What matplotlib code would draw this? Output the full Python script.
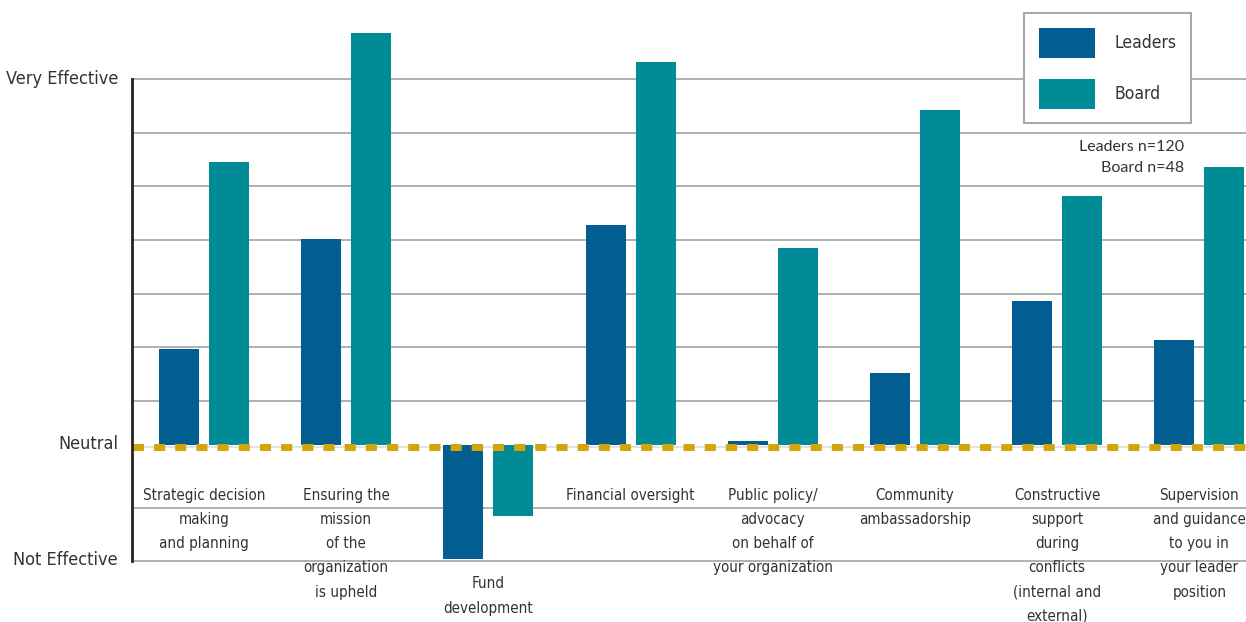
import numpy as np
import matplotlib
matplotlib.use("Agg")
import matplotlib.pyplot as plt
from matplotlib.patches import Patch

# Ratings relative to "Neutral", in grid steps (Not Effective = 0, Very Effective = 9)
categories = [
    "Strategic decision\nmaking\nand planning",
    "Ensuring the\nmission\nof the\norganization\nis upheld",
    "Fund\ndevelopment",
    "Financial oversight",
    "Public policy/\nadvocacy\non behalf of\nyour organization",
    "Community\nambassadorship",
    "Constructive\nsupport\nduring\nconflicts\n(internal and\nexternal)",
    "Supervision\nand guidance\nto you in\nyour leader\nposition",
]
leaders = [1.78, 3.84, -2.13, 4.11, 0.07, 1.33, 2.68, 1.96]
board = [5.28, 7.68, -1.33, 7.14, 3.67, 6.25, 4.64, 5.18]

neutral = 2.18
scale_labels = ["Not Effective", "Neutral", "Very Effective"]
sample_note = "Leaders n=120\nBoard n=48"

c_leaders = "#025d91"
c_board = "#008b96"
c_gold = "#d4a40b"
c_text = "#333333"
cond = dict(family="DejaVu Sans", fontstretch="condensed")

fig = plt.figure(figsize=(12.46, 6.22), dpi=100)
ax = fig.add_axes([132 / 1246, 0, 1 - 132 / 1246, 1])

x = np.arange(len(categories))
w = 0.281
off = 0.176
ax.bar(x - off, leaders, w, bottom=neutral, color=c_leaders, zorder=3, label="Leaders")
ax.bar(x + off, board, w, bottom=neutral, color=c_board, zorder=3, label="Board")

# horizontal grid, skipping the step hidden by the neutral line
for g in [0, 1, 3, 4, 5, 6, 7, 8, 9]:
    ax.axhline(g, color="#9a9a9a", lw=1.1, zorder=1)
ax.axhline(neutral - 0.04, color="#dddddd", lw=1.2, zorder=2)
ax.axhline(neutral - 0.04, color=c_gold, lw=5, linestyle=(3, (1.6, 1.45)), zorder=4)

ax.set_xlim(-0.506, 7.328)
ax.set_ylim(-1.131, 10.482)

for s in ["top", "right", "bottom"]:
    ax.spines[s].set_visible(False)
ax.spines["left"].set_bounds(0, 9)
ax.spines["left"].set_linewidth(2)
ax.spines["left"].set_color("#222222")
ax.spines["left"].set_zorder(5)

ax.set_xticks([])
ax.set_yticks([0.06, neutral + 0.05, 9.05])
ax.set_yticklabels(scale_labels, fontsize=13, color=c_text, **cond)
ax.tick_params(axis="y", length=0, pad=10)

for i, name in enumerate(categories):
    low = min(leaders[i], board[i])
    ty = neutral - 0.81 if low >= 0 else neutral + low - 0.33
    ax.text(i, ty, name, ha="center", va="top", fontsize=10.9,
            color=c_text, linespacing=1.76, zorder=6, **cond)

ax.text(6.89, 7.54, sample_note, ha="right", va="center", family="Lato",
        fontsize=11.5, color=c_text, linespacing=1.6)

handles = [Patch(facecolor=c_leaders), Patch(facecolor=c_board)]
leg = ax.legend(handles, ["Leaders", "Board"], loc="upper right",
                bbox_to_anchor=(1191 / 1246, 1 - 13 / 622), bbox_transform=fig.transFigure,
                borderaxespad=0, fancybox=False, framealpha=1, edgecolor="#aaaaaa",
                prop={"family": "DejaVu Sans", "stretch": "condensed", "size": 12.5},
                handlelength=3.25, handleheight=2.28,
                labelspacing=1.2, handletextpad=1.1, borderpad=0.85)
leg.get_frame().set_linewidth(1.5)
leg.set_zorder(7)
for t in leg.get_texts():
    t.set_color(c_text)

fig.savefig("out.png", dpi=100)
